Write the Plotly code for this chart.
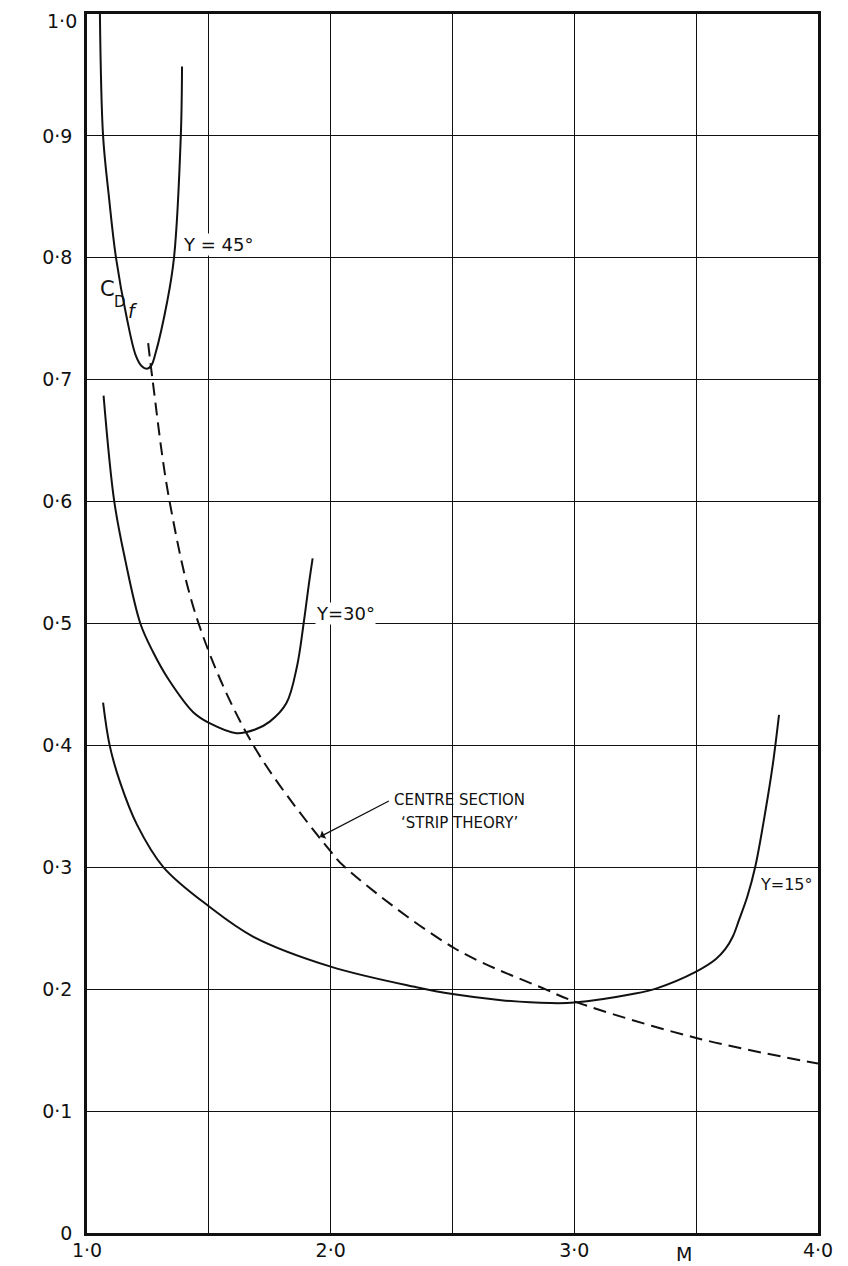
import plotly.graph_objects as go

# ---- data ----
m_45 = [1.053, 1.066, 1.090, 1.119, 1.164, 1.200, 1.225, 1.246, 1.265, 1.279, 1.330, 1.357, 1.385, 1.390]
cd_45 = [1.000, 0.900, 0.850, 0.800, 0.750, 0.720, 0.711, 0.709, 0.712, 0.720, 0.765, 0.800, 0.900, 0.957]

m_30 = [1.068, 1.112, 1.157, 1.219, 1.270, 1.335, 1.437, 1.505, 1.613, 1.690, 1.750, 1.818, 1.862, 1.889, 1.911, 1.926]
cd_30 = [0.687, 0.600, 0.552, 0.500, 0.477, 0.454, 0.427, 0.418, 0.410, 0.413, 0.4195, 0.4345, 0.465, 0.500, 0.533, 0.5535]

m_15 = [1.066, 1.093, 1.137, 1.205, 1.314, 1.500, 1.683, 2.000, 2.352, 2.500, 2.700, 2.900, 3.000, 3.239,
        3.335, 3.500, 3.580, 3.620, 3.650, 3.676, 3.710, 3.742, 3.785, 3.815, 3.840]
cd_15 = [0.435, 0.400, 0.369, 0.335, 0.300, 0.268, 0.243, 0.2185, 0.2016, 0.1960, 0.1910, 0.1886, 0.1890, 0.1960,
         0.2005, 0.2144, 0.2245, 0.233, 0.243, 0.2568, 0.276, 0.300, 0.347, 0.385, 0.425]

m_strip = [1.251, 1.269, 1.339, 1.458, 1.683, 2.000, 2.059, 2.505, 2.880, 3.000, 3.500, 4.000]
cd_strip = [0.730, 0.700, 0.600, 0.500, 0.400, 0.313, 0.300, 0.234, 0.200, 0.190, 0.160, 0.139]

x_tickvals = [1.0, 1.5, 2.0, 2.5, 3.0, 3.5, 4.0]
x_ticktext = ["1·0", "", "2·0", "", "3·0", "", "4·0"]
y_tickvals = [0.0, 0.1, 0.2, 0.3, 0.4, 0.5, 0.6, 0.7, 0.8, 0.9, 1.0]
y_ticktext = ["0", "0·1", "0·2", "0·3", "0·4", "0·5", "0·6", "0·7", "0·8", "0·9", "1·0"]

FONT = "DejaVu Sans"
INK = "#111111"

fig = go.Figure()
for mx, cy in [(m_45, cd_45), (m_30, cd_30), (m_15, cd_15)]:
    fig.add_trace(go.Scatter(x=mx, y=cy, mode="lines",
                             line=dict(color=INK, width=2, shape="spline", smoothing=1.0),
                             showlegend=False, hoverinfo="skip"))
fig.add_trace(go.Scatter(x=m_strip, y=cd_strip, mode="lines",
                         line=dict(color=INK, width=2, dash="13px,7px", shape="spline", smoothing=1.0),
                         showlegend=False, hoverinfo="skip"))

def label(x, y, text, size=17, xanchor="left", bg="white", **kw):
    fig.add_annotation(x=x, y=y, xref="x", yref="y", text=text, showarrow=False,
                       xanchor=xanchor, yanchor="middle",
                       font=dict(family=FONT, size=size, color=INK),
                       bgcolor=bg, borderpad=0, **kw)

label(1.39, 0.811, "Y = 45°", size=18)
label(1.934, 0.508, "Y=30°", size=18)
label(3.758, 0.2855, "Y=15°", size=16)
label(2.254, 0.355, "CENTRE SECTION", size=15, bg="rgba(0,0,0,0)")
label(2.285, 0.336, "‘STRIP THEORY’", size=15, bg="rgba(0,0,0,0)")

# arrow to the dashed curve
fig.add_annotation(x=1.956, y=0.325, ax=2.245, ay=0.355, xref="x", yref="y",
                   axref="x", ayref="y", text="", showarrow=True,
                   arrowhead=1, arrowsize=1.2, arrowwidth=1.3, arrowcolor=INK)

# axis titles
fig.add_annotation(x=3.45, y=0, xref="x", yref="y", text="M", showarrow=False,
                   yshift=-21, font=dict(family=FONT, size=19, color=INK))
label(1.085, 0.774, "C", size=21, bg="rgba(0,0,0,0)", xanchor="center")
label(1.135, 0.764, "D", size=15, bg="rgba(0,0,0,0)", xanchor="center")
label(1.19, 0.756, "<i>f</i>", size=19, bg="rgba(0,0,0,0)", xanchor="center")

# the topmost y label sits at the page edge: draw it a touch lower so it is not clipped
top_label = y_ticktext[-1]
y_ticktext_axis = y_ticktext[:-1] + [""]
fig.add_annotation(x=0, y=y_tickvals[-1], xref="paper", yref="y", text=top_label,
                   showarrow=False, xanchor="right", yanchor="top", xshift=-8, yshift=6,
                   font=dict(family=FONT, size=19, color=INK))

axis_common = dict(showgrid=True, gridcolor=INK, gridwidth=1.3, zeroline=False,
                   showline=True, linecolor=INK, linewidth=2.5, mirror=True, automargin=False,
                   ticks="", ticklabeloverflow="allow",
                   tickfont=dict(family=FONT, size=19, color=INK))
fig.update_xaxes(range=[1, 4], tickmode="array", tickvals=x_tickvals, ticktext=x_ticktext,
                 ticklabelstandoff=-2, **axis_common)
fig.update_yaxes(range=[0, 1], tickmode="array", tickvals=y_tickvals, ticktext=y_ticktext_axis,
                 ticklabelstandoff=8, **axis_common)

# page body has an 8px margin: size the figure so the plot lands where the reference has it
fig.update_layout(width=840, height=1258, margin=dict(l=79, r=30, t=6, b=33, autoexpand=False),
                  paper_bgcolor="white", plot_bgcolor="white", showlegend=False)

fig.write_html("out.html")
